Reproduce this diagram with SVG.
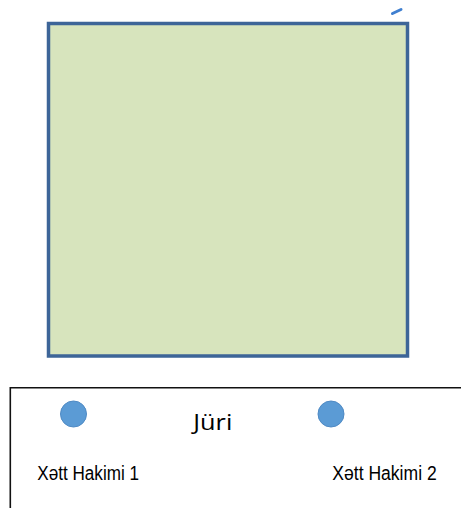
<svg xmlns="http://www.w3.org/2000/svg" width="461" height="508" viewBox="0 0 461 508">
<style>
.lbl{font-family:"Liberation Sans",Arial,sans-serif;font-size:20px;fill:#000}
.ttl{font-family:"Open Sans","DejaVu Sans",sans-serif;font-size:22px;fill:#000}
.dot{fill:#5b9bd5;stroke:#4f8ac4;stroke-width:1}
</style>
<rect width="461" height="508" fill="#ffffff"/>
<g id="field">
<rect x="48.5" y="23.5" width="359" height="332.5" fill="#d7e4bd" stroke="#3d6598" stroke-width="3.5"/>
</g>
<g id="mark">
<line x1="392.5" y1="13.5" x2="401" y2="9.5" stroke="#3f7fd0" stroke-width="3" stroke-linecap="round"/>
</g>
<g id="bench">
<path d="M461 387.8 H10.3 V508" fill="none" stroke="#111" stroke-width="1.6"/>
</g>
<g id="juri">
<text class="ttl" x="193.3" y="430" textLength="39" lengthAdjust="spacingAndGlyphs">Jüri</text>
</g>
<g id="hakim1">
<circle class="dot" cx="73.5" cy="414" r="13"/>
<text class="lbl" x="37.3" y="480" textLength="101.7" lengthAdjust="spacingAndGlyphs">Xətt Hakimi 1</text>
</g>
<g id="hakim2">
<circle class="dot" cx="331" cy="414" r="13"/>
<text class="lbl" x="332.3" y="480" textLength="104.4" lengthAdjust="spacingAndGlyphs">Xətt Hakimi 2</text>
</g>
<g id="connectors"/>
</svg>
